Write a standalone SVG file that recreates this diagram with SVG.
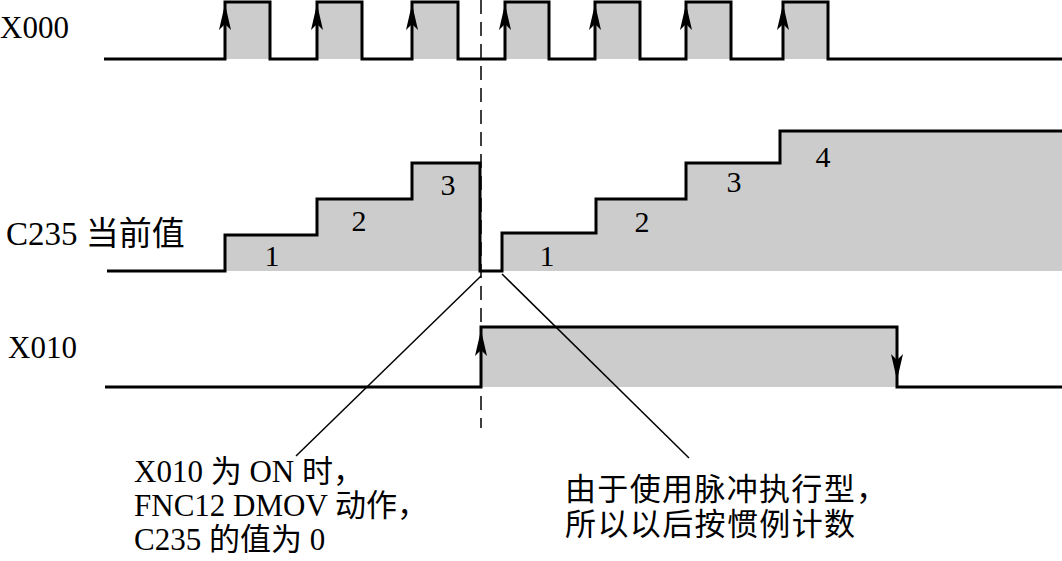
<svg xmlns="http://www.w3.org/2000/svg" width="1062" height="561" viewBox="0 0 1062 561">
<defs>
<style>
.wave{fill:none;stroke:#000;stroke-width:3;stroke-linejoin:miter}
.fill{fill:#cccccc;stroke:none}
.lbl{font-family:"Liberation Serif","Noto Sans CJK SC",serif;font-size:31px;fill:#000}
.lbl2{font-family:"Liberation Serif","Noto Sans CJK SC",serif;font-size:33px;fill:#000}
.num{font-family:"Liberation Serif",serif;font-size:30px;fill:#000;text-anchor:middle}
.note{font-family:"Liberation Serif","Noto Sans CJK SC",serif;font-size:31px;fill:#000}
.lead{fill:none;stroke:#000;stroke-width:1.5}
.dash{fill:none;stroke:#000;stroke-width:1.5;stroke-dasharray:14,8}
.arr{fill:#000;stroke:none}
</style>
<path id="up" d="M0,0 L-6,26 L0,20 L6,26 Z"/>
<path id="dn" d="M0,0 L-6,-26 L0,-20 L6,-26 Z"/>
</defs>

<g id="X000">
<text class="lbl" x="0" y="38">X000</text>
<path class="fill" d="M225,2H270V59H225Z M317,2H362V59H317Z M412,2H458V59H412Z M505,2H549V59H505Z M595,2H640V59H595Z M686,2H731V59H686Z M783,2H828V59H783Z"/>
<path class="wave" d="M104,59H225V2H270V59H317V2H362V59H412V2H458V59H505V2H549V59H595V2H640V59H686V2H731V59H783V2H828V59H1062"/>
<use href="#up" class="arr" x="225" y="4"/>
<use href="#up" class="arr" x="317" y="4"/>
<use href="#up" class="arr" x="412" y="4"/>
<use href="#up" class="arr" x="505" y="4"/>
<use href="#up" class="arr" x="595" y="4"/>
<use href="#up" class="arr" x="686" y="4"/>
<use href="#up" class="arr" x="783" y="4"/>
</g>

<g id="C235">
<text class="lbl2" x="6" y="245">C235 当前值</text>
<path class="fill" d="M225,271V235H317V199H412V163H480V271Z M502,271V233H596V199H686V163H780V131H1062V271Z"/>
<path class="wave" d="M107,271H225V235H317V199H412V163H480V271H502V233H596V199H686V163H780V131H1062"/>
<text class="num" x="272" y="266">1</text>
<text class="num" x="359" y="231">2</text>
<text class="num" x="448" y="195">3</text>
<text class="num" x="547" y="266">1</text>
<text class="num" x="642" y="232">2</text>
<text class="num" x="734" y="192">3</text>
<text class="num" x="823" y="167">4</text>
</g>

<g id="X010">
<text class="lbl" x="8" y="358">X010</text>
<path class="fill" d="M481,327H897V387H481Z"/>
<path class="wave" d="M105,387H481V327H897V387H1062"/>
<use href="#up" class="arr" x="481" y="330"/>
<use href="#dn" class="arr" x="897" y="380"/>
</g>

<g id="connectors">
<line class="dash" x1="481" y1="0" x2="481" y2="428"/>
<line class="lead" x1="481" y1="276" x2="296" y2="456"/>
<line class="lead" x1="502" y1="274" x2="689" y2="458"/>
</g>

<g id="note-left">
<text class="note" x="134" y="482">X010 为 ON 时，</text>
<text class="note" x="134" y="516">FNC12 DMOV 动作，</text>
<text class="note" x="134" y="550">C235 的值为 0</text>
</g>

<g id="note-right">
<text class="note" x="565" y="500" textLength="322" lengthAdjust="spacing">由于使用脉冲执行型，</text>
<text class="note" x="565" y="535" textLength="290" lengthAdjust="spacing">所以以后按惯例计数</text>
</g>
</svg>
